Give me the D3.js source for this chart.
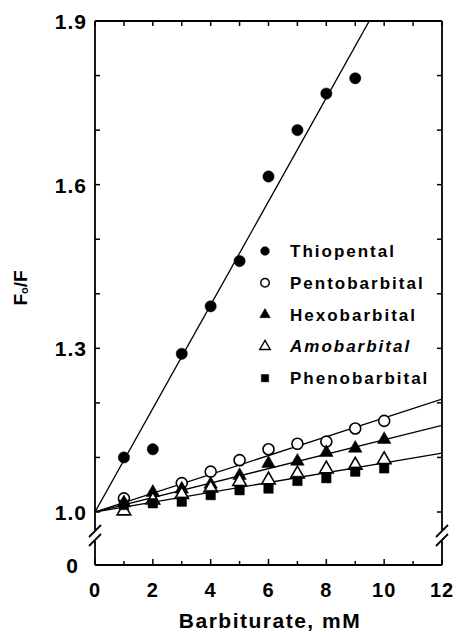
<!DOCTYPE html>
<html>
<head>
<meta charset="utf-8">
<script src="https://cdn.jsdelivr.net/npm/d3@7"></script>
<style>
  html, body { margin: 0; padding: 0; background: #fff; }
  text { font-family: "Liberation Sans", Arial, sans-serif; font-weight: bold; fill: #000; }
</style>
</head>
<body>
<div id="chart"></div>
<script>
// data (F0/F vs barbiturate concentration, mM)
var conc = [1, 2, 3, 4, 5, 6, 7, 8, 9, 10];
var thiopental    = [1.100, 1.115, 1.290, 1.377, 1.460, 1.615, 1.700, 1.767, 1.795, null];
var pentobarbital = [1.025, null, 1.053, 1.074, 1.095, 1.115, 1.125, 1.129, 1.153, 1.167];
var hexobarbital  = [1.015, 1.034, 1.040, 1.049, 1.065, 1.087, 1.091, 1.107, 1.115, 1.131];
var amobarbital   = [1.000, 1.020, 1.030, 1.042, 1.054, 1.057, 1.068, 1.077, 1.084, 1.094];
var phenobarbital = [1.013, 1.016, 1.019, 1.031, 1.040, 1.043, 1.057, 1.062, 1.074, 1.080];

// fitted slopes of the regression lines through (0, 1.0)
var fitNames  = ["Thiopental", "Pentobarbital", "Hexobarbital", "Amo/Phenobarbital"];
var fitSlopes = [0.0949, 0.01725, 0.01325, 0.0090];

var seriesNames = ["Thiopental", "Pentobarbital", "Hexobarbital", "Amobarbital", "Phenobarbital"];
var yTicks = [1.0, 1.3, 1.6, 1.9];
var xTicks = [0, 2, 4, 6, 8, 10, 12];

function draw() {
    var W = 456, H = 632;
    var mLeft = 95, mRight = 442, mTop = 21, yOne = 512, yZero = 565;

    var svg = d3.select("#chart").append("svg")
        .attr("width", W).attr("height", H);

    var x = d3.scaleLinear().domain([0, 12]).range([mLeft, mRight]);
    var y = d3.scaleLinear().domain([1.0, 1.9]).range([yOne, mTop]);

    // symbols
    var sym = {
        Thiopental:    { type: d3.symbolCircle,   size: 100, fill: "#000" },
        Pentobarbital: { type: d3.symbolCircle,   size: 95,  fill: "#fff" },
        Hexobarbital:  { type: d3.symbolTriangle, size: 80,  fill: "#000" },
        Amobarbital:   { type: d3.symbolTriangle, size: 80,  fill: "#fff" },
        Phenobarbital: { type: d3.symbolSquare,   size: 90,  fill: "#000" }
    };
    var values = [thiopental, pentobarbital, hexobarbital, amobarbital, phenobarbital];

    // clip for the plot area
    svg.append("clipPath").attr("id", "plot")
      .append("rect").attr("x", mLeft).attr("y", mTop).attr("width", mRight - mLeft).attr("height", yOne - mTop);

    // fitted lines
    var fits = fitNames.map(function(n, i) { return { name: n, slope: fitSlopes[i] }; });
    svg.append("g").attr("clip-path", "url(#plot)")
      .selectAll("line").data(fits).enter().append("line")
        .attr("x1", x(0)).attr("y1", y(1.0))
        .attr("x2", x(12)).attr("y2", function(d) { return y(1.0 + d.slope * 12); })
        .attr("stroke", "#000").attr("stroke-width", 1.3);

    // data points
    seriesNames.forEach(function(name, i) {
        var s = sym[name];
        var pts = conc.map(function(c, j) { return { x: c, y: values[i][j] }; })
                      .filter(function(d) { return d.y != null; });
        svg.append("g").selectAll("path").data(pts).enter().append("path")
            .attr("d", d3.symbol().type(s.type).size(s.size))
            .attr("transform", function(d) {
                var dy = s.type === d3.symbolTriangle ? -1 : 0;
                return "translate(" + x(d.x) + "," + (y(d.y) + dy) + ")";
            })
            .attr("fill", s.fill)
            .attr("stroke", "#000").attr("stroke-width", s.fill === "#fff" ? 1.6 : 0.5);
    });

    // frame with axis breaks
    var frame = svg.append("g").attr("stroke", "#000").attr("stroke-width", 1.8).attr("fill", "none");
    frame.append("line").attr("x1", mLeft).attr("x2", mRight).attr("y1", mTop).attr("y2", mTop);
    frame.append("line").attr("x1", mLeft).attr("x2", mRight).attr("y1", yZero).attr("y2", yZero);
    [mLeft, mRight].forEach(function(ax) {
        frame.append("line").attr("x1", ax).attr("x2", ax).attr("y1", mTop).attr("y2", 530);
        frame.append("line").attr("x1", ax).attr("x2", ax).attr("y1", 541).attr("y2", yZero);
        [531, 540].forEach(function(by) {
            frame.append("line").attr("x1", ax - 6).attr("y1", by + 6).attr("x2", ax + 6).attr("y2", by - 6);
        });
    });

    // ticks
    var tk = svg.append("g").attr("stroke", "#000").attr("stroke-width", 1.5);
    d3.range(0, 13).forEach(function(v) {
        tk.append("line").attr("x1", x(v)).attr("x2", x(v)).attr("y1", mTop).attr("y2", mTop + 5);
        tk.append("line").attr("x1", x(v)).attr("x2", x(v)).attr("y1", yZero).attr("y2", yZero - (v % 2 ? 4 : 6));
    });
    d3.range(0, 10).forEach(function(k) {
        var v = 1.0 + k * 0.1;
        tk.append("line").attr("x1", mLeft).attr("x2", mLeft + 5).attr("y1", y(v)).attr("y2", y(v));
        tk.append("line").attr("x1", mRight).attr("x2", mRight - 5).attr("y1", y(v)).attr("y2", y(v));
    });

    // tick labels
    svg.append("g").selectAll("text").data(yTicks).enter().append("text")
        .attr("x", 87).attr("y", function(d) { return y(d) + 8; })
        .attr("text-anchor", "end").attr("font-size", 21).attr("letter-spacing", 1)
        .text(function(d) { return d.toFixed(1); });
    svg.append("text").attr("x", 78).attr("y", yZero + 8)
        .attr("text-anchor", "end").attr("font-size", 21).text("0");

    svg.append("g").selectAll("text").data(xTicks).enter().append("text")
        .attr("x", function(d) { return x(d); }).attr("y", 597)
        .attr("text-anchor", "middle").attr("font-size", 20).attr("letter-spacing", 1)
        .text(function(d) { return d; });

    // axis titles
    svg.append("text").attr("x", 270).attr("y", 628)
        .attr("text-anchor", "middle").attr("font-size", 21).attr("letter-spacing", 1.5)
        .text("Barbiturate, mM");

    var yt = svg.append("text")
        .attr("transform", "translate(27,288) rotate(-90)")
        .attr("text-anchor", "middle").attr("font-size", 19);
    yt.append("tspan").text("F");
    yt.append("tspan").attr("font-size", 11).attr("dy", 1).text("o");
    yt.append("tspan").attr("dy", -1).text("/F");

    // legend
    var leg = svg.append("g");
    seriesNames.forEach(function(name, i) {
        var s = sym[name];
        var ly = 251 + i * 31.8;
        leg.append("path")
            .attr("d", d3.symbol().type(s.type).size(s.size * 0.6))
            .attr("transform", "translate(265," + ly + ")")
            .attr("fill", s.fill).attr("stroke", "#000").attr("stroke-width", s.fill === "#fff" ? 1.4 : 0.5);
        leg.append("text").attr("x", 290).attr("y", ly + 6)
            .attr("font-size", 17).attr("letter-spacing", 2)
            .attr("font-style", name === "Amobarbital" ? "italic" : "normal")
            .text(name);
    });
}

draw();
</script>
</body>
</html>
